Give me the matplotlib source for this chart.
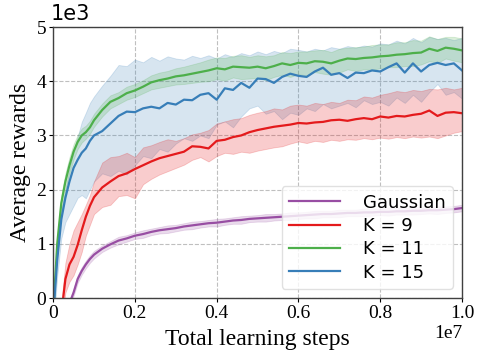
import numpy as np
import matplotlib
matplotlib.use("Agg")
import matplotlib.pyplot as plt

# training steps (millions)
steps_m = [0.0, 0.1, 0.2, 0.3, 0.4, 0.5, 0.6, 0.7, 0.8, 0.9, 1.0,
           1.2, 1.4, 1.6, 1.8, 2.0, 2.2, 2.4, 2.6, 2.8, 3.0,
           3.2, 3.4, 3.6, 3.8, 4.0, 4.2, 4.4, 4.6, 4.8, 5.0,
           5.2, 5.4, 5.6, 5.8, 6.0, 6.2, 6.4, 6.6, 6.8, 7.0,
           7.2, 7.4, 7.6, 7.8, 8.0, 8.2, 8.4, 8.6, 8.8, 9.0,
           9.2, 9.4, 9.6, 9.8, 10.0]

# rewards in thousands
gauss_mean = [-1.6, -1.2, -0.8, -0.45, -0.1, 0.1, 0.35, 0.5, 0.62, 0.72, 0.8,
              0.91, 0.99, 1.06, 1.1, 1.15, 1.18, 1.22, 1.25, 1.27, 1.29,
              1.32, 1.34, 1.36, 1.38, 1.39, 1.41, 1.43, 1.44, 1.46, 1.47,
              1.48, 1.49, 1.5, 1.51, 1.52, 1.53, 1.54, 1.55, 1.55, 1.56,
              1.57, 1.57, 1.58, 1.58, 1.59, 1.59, 1.6, 1.6, 1.61, 1.61,
              1.62, 1.62, 1.63, 1.64, 1.66]
gauss_spread = [0.05, 0.05, 0.05, 0.05, 0.06, 0.06, 0.07, 0.07, 0.07, 0.07, 0.07,
                0.06, 0.06, 0.07, 0.06, 0.06, 0.07, 0.06, 0.06, 0.07, 0.06,
                0.06, 0.07, 0.06, 0.06, 0.07, 0.06, 0.06, 0.07, 0.06, 0.06,
                0.07, 0.06, 0.06, 0.07, 0.06, 0.06, 0.07, 0.06, 0.06, 0.07,
                0.06, 0.06, 0.07, 0.06, 0.06, 0.07, 0.06, 0.06, 0.07, 0.06,
                0.06, 0.07, 0.06, 0.06, 0.06]

k9_mean = [-1.2, -0.8, -0.3, 0.35, 0.62, 0.76, 0.98, 1.25, 1.5, 1.7, 1.86,
           2.04, 2.15, 2.25, 2.3, 2.38, 2.45, 2.52, 2.58, 2.62, 2.66,
           2.7, 2.8, 2.79, 2.76, 2.9, 2.92, 2.97, 3.0, 3.06, 3.1,
           3.13, 3.16, 3.18, 3.2, 3.23, 3.22, 3.24, 3.25, 3.28, 3.29,
           3.27, 3.3, 3.32, 3.3, 3.35, 3.33, 3.36, 3.35, 3.38, 3.4,
           3.46, 3.36, 3.42, 3.43, 3.41]
k9_upper = [-1.0, -0.6, -0.1, 0.65, 1.0, 1.25, 1.4, 1.55, 1.72, 1.9, 2.15,
            2.5, 2.6, 2.62, 2.68, 2.6, 2.78, 2.82, 2.88, 2.93, 2.9,
            2.95, 3.02, 3.05, 3.1, 3.22, 3.26, 3.3, 3.32, 3.38, 3.42,
            3.45, 3.5, 3.48, 3.55, 3.57, 3.55, 3.6, 3.58, 3.62, 3.6,
            3.66, 3.65, 3.72, 3.7, 3.75, 3.78, 3.82, 3.8, 3.84, 3.82,
            3.86, 3.85, 3.88, 3.85, 3.88]
k9_lower = [-1.4, -1.0, -0.5, 0.1, 0.3, 0.42, 0.62, 0.85, 1.15, 1.35, 1.55,
            1.68, 1.72, 1.88, 1.9, 1.84, 2.1, 2.2, 2.28, 2.34, 2.4,
            2.46, 2.55, 2.6, 2.52, 2.62, 2.68, 2.66, 2.7, 2.68, 2.72,
            2.75, 2.78, 2.8, 2.85, 2.89, 2.86, 2.9, 2.88, 2.92, 2.9,
            2.93, 2.92, 2.95, 2.93, 2.96, 2.94, 2.97, 2.95, 2.98, 2.96,
            2.98, 2.95, 3.0, 3.05, 3.08]

k11_mean = [-0.3, 1.0, 1.75, 2.15, 2.45, 2.7, 2.88, 3.0, 3.06, 3.15, 3.28,
            3.47, 3.62, 3.69, 3.78, 3.83, 3.9, 3.98, 4.02, 4.05, 4.09,
            4.11, 4.14, 4.17, 4.2, 4.24, 4.22, 4.27, 4.26, 4.25, 4.27,
            4.24, 4.28, 4.33, 4.3, 4.34, 4.33, 4.37, 4.36, 4.33, 4.38,
            4.42, 4.41, 4.43, 4.44, 4.46, 4.47, 4.49, 4.5, 4.52, 4.53,
            4.6, 4.56, 4.62, 4.6, 4.57]
k11_spread = [0.1, 0.15, 0.15, 0.15, 0.15, 0.14, 0.13, 0.13, 0.12, 0.12, 0.12,
              0.12, 0.12, 0.11, 0.12, 0.12, 0.12, 0.13, 0.14, 0.14, 0.15,
              0.16, 0.17, 0.18, 0.2, 0.2, 0.21, 0.2, 0.22, 0.2, 0.21,
              0.22, 0.2, 0.21, 0.22, 0.21, 0.22, 0.2, 0.22, 0.21, 0.22,
              0.2, 0.22, 0.21, 0.23, 0.22, 0.21, 0.23, 0.22, 0.24, 0.22,
              0.23, 0.22, 0.2, 0.22, 0.22]

k15_mean = [-0.35, 0.7, 1.45, 1.85, 2.15, 2.4, 2.55, 2.68, 2.76, 2.9, 3.0,
            3.08, 3.22, 3.36, 3.44, 3.43, 3.5, 3.53, 3.5, 3.6, 3.57,
            3.66, 3.65, 3.75, 3.78, 3.66, 3.87, 3.84, 3.97, 3.88, 4.05,
            4.04, 3.97, 4.08, 4.14, 4.1, 4.08, 4.18, 4.25, 4.12, 4.15,
            4.06, 4.16, 4.15, 4.2, 4.18, 4.26, 4.33, 4.16, 4.33, 4.18,
            4.3, 4.34, 4.3, 4.33, 4.2]
k15_upper = [0.0, 1.0, 1.6, 2.0, 2.4, 2.72, 2.98, 3.25, 3.42, 3.6, 3.72,
             3.92, 4.1, 4.3, 4.28, 4.4, 4.35, 4.45, 4.38, 4.46, 4.42,
             4.4, 4.47, 4.43, 4.48, 4.42, 4.5, 4.45, 4.52, 4.48, 4.55,
             4.5, 4.56, 4.52, 4.6, 4.58, 4.55, 4.6, 4.57, 4.63, 4.6,
             4.65, 4.62, 4.66, 4.64, 4.7, 4.68, 4.75, 4.7, 4.8, 4.72,
             4.82, 4.78, 4.8, 4.76, 4.8]
k15_lower = [-0.6, 0.4, 1.1, 1.4, 1.55, 1.7, 1.85, 1.9, 1.84, 2.0, 2.15,
             2.3, 2.25, 2.35, 2.28, 2.45, 2.62, 2.58, 2.75, 2.7, 2.85,
             2.95, 2.9, 3.0, 2.95, 3.2, 3.26, 3.15, 3.35, 3.5, 3.55,
             3.4, 3.45, 3.3, 3.42, 3.38, 3.5, 3.45, 3.58, 3.5, 3.55,
             3.6, 3.52, 3.65, 3.58, 3.62, 3.55, 3.7, 3.6, 3.75, 3.62,
             3.8, 3.95, 3.75, 3.8, 3.68]

labels = ["Gaussian", "K = 9", "K = 11", "K = 15"]
x_tick_labels = ["0", "0.2", "0.4", "0.6", "0.8", "1.0"]
y_tick_labels = ["0", "1", "2", "3", "4", "5"]

c_gauss, c_red, c_green, c_blue = "#984ea3", "#e41a1c", "#4daf4a", "#377eb8"

x = np.array(steps_m) * 1e6
k = 1000.0

fig = plt.figure(figsize=(4.83, 3.61), dpi=100)
ax = fig.add_axes([0.110, 0.1745, 0.8465, 0.7505])

serif = "Liberation Serif"

# bands
ax.fill_between(x, np.array(k15_lower) * k, np.array(k15_upper) * k, color=c_blue, alpha=0.2, lw=0.6)
ax.fill_between(x, np.array(k9_lower) * k, np.array(k9_upper) * k, color=c_red, alpha=0.22, lw=0.6)
ax.fill_between(x, (np.array(k11_mean) - np.array(k11_spread)) * k,
                (np.array(k11_mean) + np.array(k11_spread)) * k, color=c_green, alpha=0.2, lw=0.6)
ax.fill_between(x, (np.array(gauss_mean) - np.array(gauss_spread)) * k,
                (np.array(gauss_mean) + np.array(gauss_spread)) * k, color=c_gauss, alpha=0.2, lw=0.6)

lw = 1.6
ax.plot(x, np.array(gauss_mean) * k, color=c_gauss, lw=lw, label=labels[0])
ax.plot(x, np.array(k9_mean) * k, color=c_red, lw=lw, label=labels[1])
ax.plot(x, np.array(k11_mean) * k, color=c_green, lw=lw, label=labels[2])
ax.plot(x, np.array(k15_mean) * k, color=c_blue, lw=lw, label=labels[3])

ax.set_xlim(0, 1e7)
ax.set_ylim(0, 5000)
ax.set_xticks(np.linspace(0, 1e7, 6))
ax.set_xticklabels(x_tick_labels, fontfamily=serif, fontsize=14)
ax.set_yticks(np.linspace(0, 5000, 6))
ax.set_yticklabels(y_tick_labels, fontfamily=serif, fontsize=14)
ax.tick_params(length=3, width=0.8, pad=2)

ax.grid(True, ls="--", color="0.75", lw=0.8)
ax.set_axisbelow(True)
for s in ax.spines.values():
    s.set_color("0.25")
    s.set_linewidth(1.0)

ax.set_xlabel("Total learning steps", fontfamily=serif, fontsize=17, labelpad=5)
ax.set_ylabel("Average rewards", fontfamily=serif, fontsize=17, labelpad=4)

ax.text(-0.005, 1.01, "1e3", transform=ax.transAxes, fontsize=15, ha="left", va="bottom", family="DejaVu Sans")
ax.text(1.0, -0.1, "1e7", transform=ax.transAxes, fontsize=14, ha="right", va="top", family=serif)

leg = ax.legend(loc="lower right", fontsize=13, handlelength=2.8, borderaxespad=0.5,
                labelspacing=0.3, handletextpad=1.3, borderpad=0.4, framealpha=0.8)
leg.get_frame().set_edgecolor("0.85")

fig.savefig("out.png", dpi=100)
